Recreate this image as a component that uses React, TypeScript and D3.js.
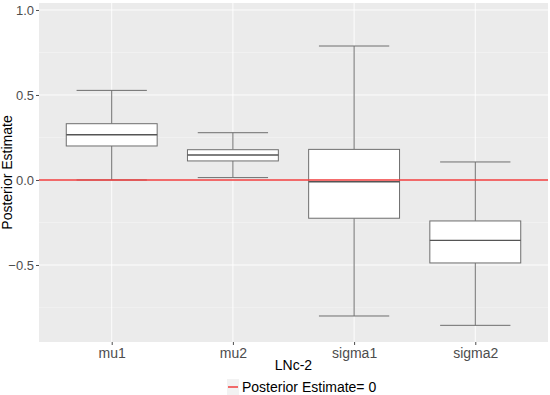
import React, { useEffect, useRef } from "react";
import * as d3 from "d3";

const categories = ["mu1", "mu2", "sigma1", "sigma2"];
const lowerWhisker = [0.0, 0.014, -0.8, -0.855];
const q1 = [0.2, 0.112, -0.225, -0.488];
const medians = [0.266, 0.147, -0.01, -0.355];
const q3 = [0.331, 0.178, 0.18, -0.241];
const upperWhisker = [0.527, 0.278, 0.788, 0.106];
const yTicks = [-0.5, 0, 0.5, 1.0];
const yMinorTicks = [-0.75, -0.25, 0.25, 0.75];
const refValue = 0;

const App = () => {
  const ref = useRef<SVGSVGElement>(null);

  useEffect(() => {
    const svg = d3.select(ref.current);
    svg.selectAll("*").remove();

    const width = 550;
    const margin = { top: 3, right: 2, bottom: 53, left: 39 };
    const plotW = width - margin.left - margin.right;
    const plotH = 395 - margin.top - margin.bottom;
    const font = "'Liberation Sans', Arial, sans-serif";

    const x = d3.scalePoint<string>().domain(categories).range([0, plotW]).padding(0.6);
    const step = x.step();
    const y = d3.scaleLinear().domain([-0.953, 1.041]).range([plotH, 0]);

    const g = svg.append("g").attr("transform", `translate(${margin.left},${margin.top})`);

    g.append("rect").attr("width", plotW).attr("height", plotH).attr("fill", "#ebebeb");

    // minor grid
    g.selectAll(".minor")
      .data(yMinorTicks)
      .enter()
      .append("line")
      .attr("x1", 0)
      .attr("x2", plotW)
      .attr("y1", (d) => y(d))
      .attr("y2", (d) => y(d))
      .attr("stroke", "#f4f4f4")
      .attr("stroke-width", 0.6);

    // major grid
    g.selectAll(".major")
      .data(yTicks)
      .enter()
      .append("line")
      .attr("x1", 0)
      .attr("x2", plotW)
      .attr("y1", (d) => y(d))
      .attr("y2", (d) => y(d))
      .attr("stroke", "#ffffff")
      .attr("stroke-width", 0.9);

    g.selectAll(".vgrid")
      .data(categories)
      .enter()
      .append("line")
      .attr("x1", (d) => x(d)!)
      .attr("x2", (d) => x(d)!)
      .attr("y1", 0)
      .attr("y2", plotH)
      .attr("stroke", "#ffffff")
      .attr("stroke-width", 0.9);

    const stroke = "#6e6e6e";
    const boxW = step * 0.75;
    const capW = step * 0.58;

    categories.forEach((c, i) => {
      const cx = x(c)!;
      // whiskers
      g.append("line")
        .attr("x1", cx).attr("x2", cx)
        .attr("y1", y(upperWhisker[i])).attr("y2", y(q3[i]))
        .attr("stroke", stroke);
      g.append("line")
        .attr("x1", cx).attr("x2", cx)
        .attr("y1", y(q1[i])).attr("y2", y(lowerWhisker[i]))
        .attr("stroke", stroke);
      // caps
      [upperWhisker[i], lowerWhisker[i]].forEach((v) => {
        g.append("line")
          .attr("x1", cx - capW / 2).attr("x2", cx + capW / 2)
          .attr("y1", y(v)).attr("y2", y(v))
          .attr("stroke", stroke);
      });
      // box
      g.append("rect")
        .attr("x", cx - boxW / 2)
        .attr("width", boxW)
        .attr("y", y(q3[i]))
        .attr("height", y(q1[i]) - y(q3[i]))
        .attr("fill", "#ffffff")
        .attr("stroke", stroke);
      g.append("line")
        .attr("x1", cx - boxW / 2).attr("x2", cx + boxW / 2)
        .attr("y1", y(medians[i])).attr("y2", y(medians[i]))
        .attr("stroke", "#555")
        .attr("stroke-width", 1.4);
    });

    // reference line
    g.append("line")
      .attr("x1", 0).attr("x2", plotW)
      .attr("y1", y(refValue)).attr("y2", y(refValue))
      .attr("stroke", "#f03c3c")
      .attr("stroke-width", 1.5);

    // y axis
    const yAxis = g.append("g").call(d3.axisLeft(y).tickValues(yTicks).tickSize(3).tickPadding(2).tickFormat(d3.format(".1f")));
    yAxis.select(".domain").remove();
    yAxis.selectAll("line").attr("stroke", "#4d4d4d");
    yAxis.selectAll("text").attr("fill", "#4d4d4d").style("font-family", font).style("font-size", "13px");

    // x axis
    const xAxis = g.append("g").attr("transform", `translate(0,${plotH})`).call(d3.axisBottom(x).tickSize(3).tickPadding(3));
    xAxis.select(".domain").remove();
    xAxis.selectAll("line").attr("stroke", "#4d4d4d");
    xAxis.selectAll("text").attr("fill", "#4d4d4d").style("font-family", font).style("font-size", "14px");

    // axis titles
    svg.append("text")
      .attr("x", margin.left + plotW / 2)
      .attr("y", 370)
      .attr("text-anchor", "middle")
      .style("font-family", font)
      .style("font-size", "14px")
      .text("LNc-2");

    svg.append("text")
      .attr("transform", `translate(12,${margin.top + plotH / 2}) rotate(-90)`)
      .attr("text-anchor", "middle")
      .style("font-family", font)
      .style("font-size", "14px")
      .text("Posterior Estimate");

    // legend
    const lg = svg.append("g").attr("transform", "translate(227,379)");
    lg.append("rect").attr("width", 12).attr("height", 16).attr("fill", "#f2f2f2");
    lg.append("line").attr("x1", 1).attr("x2", 11).attr("y1", 8).attr("y2", 8).attr("stroke", "#f03c3c").attr("stroke-width", 1.5);
    lg.append("text")
      .attr("x", 15)
      .attr("y", 13)
      .style("font-family", font)
      .style("font-size", "14px")
      .text("Posterior Estimate= 0");
  }, []);

  return (
    <svg ref={ref} width={550} height={395} style={{ position: "absolute", left: 0, top: 0, background: "#fff" }} />
  );
};

export default App;
